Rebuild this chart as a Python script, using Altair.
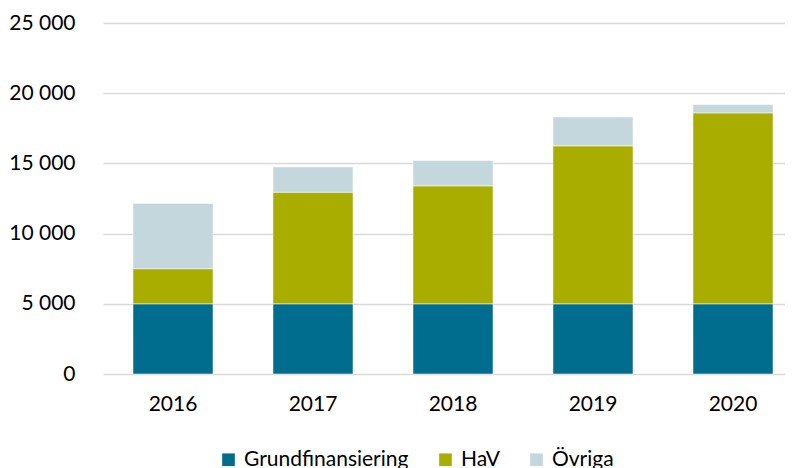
import altair as alt
import pandas as pd

years = ["2016", "2017", "2018", "2019", "2020"]
grund = [5000, 5000, 5000, 5000, 5000]
hav = [2500, 7950, 8400, 11250, 13600]
ovriga = [4650, 1800, 1800, 2050, 600]
series = ["Grundfinansiering", "HaV", "Övriga"]
colors = ["#006C8E", "#A8AD00", "#C3D7DD"]
y_ticks = [0, 5000, 10000, 15000, 20000, 25000]

rows = []
for i, yr in enumerate(years):
    for k, (name, vals) in enumerate(zip(series, [grund, hav, ovriga])):
        rows.append({"year": yr, "series": name, "value": vals[i], "ord": k})
df = pd.DataFrame(rows)

FONT = "Lato"

chart = alt.Chart(df).mark_bar(stroke="white", strokeWidth=0.5).encode(
    x=alt.X(
        "year:N", sort=years, title=None,
        scale=alt.Scale(range=[0, 700], paddingInner=3 / 7, paddingOuter=1.5 / 7,
                        round=False),
        axis=alt.Axis(labelAngle=0, ticks=False, domain=False, grid=False,
                      labelPadding=19, labelFontSize=21, labelColor="#000000",
                      labelFont=FONT),
    ),
    y=alt.Y(
        "value:Q", stack="zero", title=None,
        scale=alt.Scale(domain=[0, 25000], nice=False),
        axis=alt.Axis(values=y_ticks, ticks=False, domain=False, labelPadding=28,
                      labelFontSize=21, labelColor="#000000", labelFont=FONT,
                      gridColor="#D9D9D9", gridWidth=1.5,
                      labelExpr="replace(format(datum.value, ','), ',', ' ')"),
    ),
    color=alt.Color(
        "series:N",
        scale=alt.Scale(domain=series, range=colors),
        legend=alt.Legend(title=None, orient="none", legendX=115, legendY=426,
                          direction="horizontal", symbolType="square",
                          symbolSize=160, symbolStrokeWidth=0,
                          labelFontSize=21, labelFont=FONT, labelColor="#000000",
                          labelLimit=400, columnPadding=26, labelOffset=5),
    ),
    order=alt.Order("ord:Q"),
).properties(
    width=682, height=351,
    padding={"left": 95, "top": 15, "right": 0, "bottom": 94},
    autosize="none",
).configure_view(stroke=None)

chart.save("out.html", embed_options={"renderer": "svg", "actions": False})
